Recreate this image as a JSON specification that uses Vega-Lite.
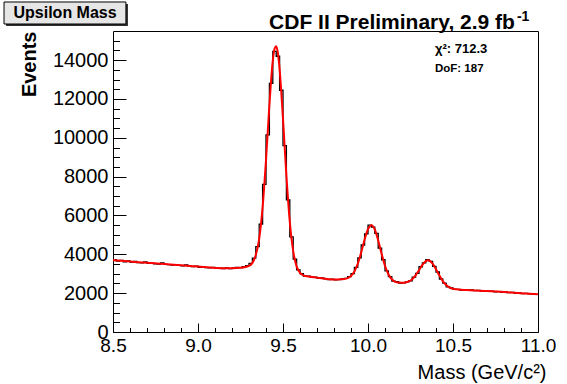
{
  "$schema": "https://vega.github.io/schema/vega-lite/v6.json",
  "width": 425,
  "height": 301,
  "autosize": {"type": "none"},
  "padding": {"left": 113, "top": 31, "right": 29, "bottom": 52},
  "background": "white",
  "config": {
    "view": {"stroke": "black", "strokeWidth": 1},
    "font": "Liberation Sans",
    "axis": {"grid": false, "domain": false}
  },
  "datasets": {
    "hist": [
      {"mass": 8.51, "events": 3720}, {"mass": 8.53, "events": 3650}, {"mass": 8.55, "events": 3690}, {"mass": 8.57, "events": 3610}, {"mass": 8.59, "events": 3660},
      {"mass": 8.61, "events": 3600}, {"mass": 8.63, "events": 3640}, {"mass": 8.65, "events": 3570}, {"mass": 8.67, "events": 3560}, {"mass": 8.69, "events": 3610},
      {"mass": 8.71, "events": 3530}, {"mass": 8.73, "events": 3550}, {"mass": 8.75, "events": 3510}, {"mass": 8.77, "events": 3500}, {"mass": 8.79, "events": 3560},
      {"mass": 8.81, "events": 3480}, {"mass": 8.83, "events": 3470}, {"mass": 8.85, "events": 3450}, {"mass": 8.87, "events": 3470}, {"mass": 8.89, "events": 3430},
      {"mass": 8.91, "events": 3410}, {"mass": 8.93, "events": 3450}, {"mass": 8.95, "events": 3390}, {"mass": 8.97, "events": 3370}, {"mass": 8.99, "events": 3390},
      {"mass": 9.01, "events": 3330}, {"mass": 9.03, "events": 3370}, {"mass": 9.05, "events": 3320}, {"mass": 9.07, "events": 3300}, {"mass": 9.09, "events": 3330},
      {"mass": 9.11, "events": 3280}, {"mass": 9.13, "events": 3290}, {"mass": 9.15, "events": 3270}, {"mass": 9.17, "events": 3300}, {"mass": 9.19, "events": 3260},
      {"mass": 9.21, "events": 3300}, {"mass": 9.23, "events": 3330}, {"mass": 9.25, "events": 3320}, {"mass": 9.27, "events": 3370}, {"mass": 9.29, "events": 3420},
      {"mass": 9.31, "events": 3530}, {"mass": 9.33, "events": 3800}, {"mass": 9.35, "events": 4400}, {"mass": 9.37, "events": 5550}, {"mass": 9.39, "events": 7600},
      {"mass": 9.41, "events": 10150}, {"mass": 9.43, "events": 12800}, {"mass": 9.45, "events": 14450}, {"mass": 9.47, "events": 14200}, {"mass": 9.49, "events": 12450},
      {"mass": 9.51, "events": 9600}, {"mass": 9.53, "events": 6800}, {"mass": 9.55, "events": 4900}, {"mass": 9.57, "events": 3750}, {"mass": 9.59, "events": 3200},
      {"mass": 9.61, "events": 3010}, {"mass": 9.63, "events": 2880}, {"mass": 9.65, "events": 2870}, {"mass": 9.67, "events": 2810}, {"mass": 9.69, "events": 2830},
      {"mass": 9.71, "events": 2770}, {"mass": 9.73, "events": 2780}, {"mass": 9.75, "events": 2740}, {"mass": 9.77, "events": 2700}, {"mass": 9.79, "events": 2720},
      {"mass": 9.81, "events": 2690}, {"mass": 9.83, "events": 2700}, {"mass": 9.85, "events": 2740}, {"mass": 9.87, "events": 2760}, {"mass": 9.89, "events": 2850},
      {"mass": 9.91, "events": 3010}, {"mass": 9.93, "events": 3330}, {"mass": 9.95, "events": 3820}, {"mass": 9.97, "events": 4480}, {"mass": 9.99, "events": 5050},
      {"mass": 10.01, "events": 5500}, {"mass": 10.03, "events": 5400}, {"mass": 10.05, "events": 5080}, {"mass": 10.07, "events": 4320}, {"mass": 10.09, "events": 3720},
      {"mass": 10.11, "events": 3150}, {"mass": 10.13, "events": 2850}, {"mass": 10.15, "events": 2620}, {"mass": 10.17, "events": 2590}, {"mass": 10.19, "events": 2520},
      {"mass": 10.21, "events": 2530}, {"mass": 10.23, "events": 2580}, {"mass": 10.25, "events": 2640}, {"mass": 10.27, "events": 2830}, {"mass": 10.29, "events": 3020},
      {"mass": 10.31, "events": 3360}, {"mass": 10.33, "events": 3560}, {"mass": 10.35, "events": 3720}, {"mass": 10.37, "events": 3640}, {"mass": 10.39, "events": 3380},
      {"mass": 10.41, "events": 3090}, {"mass": 10.43, "events": 2730}, {"mass": 10.45, "events": 2520}, {"mass": 10.47, "events": 2330}, {"mass": 10.49, "events": 2270},
      {"mass": 10.51, "events": 2190}, {"mass": 10.53, "events": 2200}, {"mass": 10.55, "events": 2160}, {"mass": 10.57, "events": 2180}, {"mass": 10.59, "events": 2150},
      {"mass": 10.61, "events": 2170}, {"mass": 10.63, "events": 2130}, {"mass": 10.65, "events": 2140}, {"mass": 10.67, "events": 2110}, {"mass": 10.69, "events": 2130},
      {"mass": 10.71, "events": 2100}, {"mass": 10.73, "events": 2110}, {"mass": 10.75, "events": 2070}, {"mass": 10.77, "events": 2080}, {"mass": 10.79, "events": 2040},
      {"mass": 10.81, "events": 2060}, {"mass": 10.83, "events": 2030}, {"mass": 10.85, "events": 2040}, {"mass": 10.87, "events": 1990}, {"mass": 10.89, "events": 2010},
      {"mass": 10.91, "events": 1980}, {"mass": 10.93, "events": 1990}, {"mass": 10.95, "events": 1960}, {"mass": 10.97, "events": 1970}, {"mass": 10.99, "events": 1940}
    ],
    "fit": [
      {"mass": 8.5, "events": 3700}, {"mass": 8.6, "events": 3630}, {"mass": 8.7, "events": 3560}, {"mass": 8.8, "events": 3500}, {"mass": 8.9, "events": 3440},
      {"mass": 9.0, "events": 3370}, {"mass": 9.1, "events": 3300}, {"mass": 9.15, "events": 3280}, {"mass": 9.2, "events": 3285}, {"mass": 9.25, "events": 3310},
      {"mass": 9.28, "events": 3350}, {"mass": 9.3, "events": 3400}, {"mass": 9.32, "events": 3560}, {"mass": 9.34, "events": 3960}, {"mass": 9.36, "events": 4800},
      {"mass": 9.38, "events": 6420}, {"mass": 9.4, "events": 8850}, {"mass": 9.42, "events": 11680}, {"mass": 9.44, "events": 13970}, {"mass": 9.45, "events": 14570},
      {"mass": 9.46, "events": 14715}, {"mass": 9.47, "events": 14355}, {"mass": 9.48, "events": 13540}, {"mass": 9.5, "events": 10970}, {"mass": 9.52, "events": 8055},
      {"mass": 9.54, "events": 5670}, {"mass": 9.56, "events": 4160}, {"mass": 9.58, "events": 3380}, {"mass": 9.6, "events": 3050}, {"mass": 9.62, "events": 2920},
      {"mass": 9.65, "events": 2855}, {"mass": 9.7, "events": 2800}, {"mass": 9.75, "events": 2745}, {"mass": 9.8, "events": 2705}, {"mass": 9.82, "events": 2705},
      {"mass": 9.84, "events": 2713}, {"mass": 9.86, "events": 2726}, {"mass": 9.88, "events": 2771}, {"mass": 9.9, "events": 2883}, {"mass": 9.92, "events": 3112},
      {"mass": 9.94, "events": 3518}, {"mass": 9.96, "events": 4101}, {"mass": 9.98, "events": 4759}, {"mass": 10.0, "events": 5295}, {"mass": 10.02, "events": 5502},
      {"mass": 10.04, "events": 5279}, {"mass": 10.06, "events": 4716}, {"mass": 10.08, "events": 4026}, {"mass": 10.1, "events": 3411}, {"mass": 10.12, "events": 2972},
      {"mass": 10.14, "events": 2715}, {"mass": 10.16, "events": 2585}, {"mass": 10.18, "events": 2545}, {"mass": 10.2, "events": 2538}, {"mass": 10.22, "events": 2550},
      {"mass": 10.24, "events": 2603}, {"mass": 10.26, "events": 2719}, {"mass": 10.28, "events": 2916}, {"mass": 10.3, "events": 3184}, {"mass": 10.32, "events": 3459},
      {"mass": 10.34, "events": 3652}, {"mass": 10.355, "events": 3695}, {"mass": 10.36, "events": 3683}, {"mass": 10.38, "events": 3526}, {"mass": 10.4, "events": 3235},
      {"mass": 10.42, "events": 2906}, {"mass": 10.44, "events": 2624}, {"mass": 10.46, "events": 2418}, {"mass": 10.48, "events": 2290}, {"mass": 10.5, "events": 2228},
      {"mass": 10.52, "events": 2199}, {"mass": 10.55, "events": 2175}, {"mass": 10.6, "events": 2155}, {"mass": 10.7, "events": 2115}, {"mass": 10.8, "events": 2055},
      {"mass": 10.9, "events": 2000}, {"mass": 11.0, "events": 1945}
    ]
  },
  "layer": [
    {
      "data": {"name": "hist"},
      "mark": {"type": "line", "interpolate": "step", "color": "black", "strokeWidth": 1.3},
      "encoding": {
        "x": {
          "field": "mass", "type": "quantitative",
          "scale": {"domain": [8.5, 11], "nice": false, "zero": false},
          "axis": {
            "orient": "bottom", "values": [8.5, 9, 9.5, 10, 10.5, 11], "format": ".1f",
            "tickSize": -9, "tickColor": "black", "tickWidth": 1,
            "labelFontSize": 19, "labelColor": "black", "labelPadding": 13, "labelFlush": false, "labelOverlap": false,
            "title": "Mass (GeV/c²)", "titleAnchor": "end", "titleAlign": "right", "titleX": 433, "titleFontSize": 20, "titleFontWeight": "normal", "titleColor": "black", "titlePadding": 7
          }
        },
        "y": {
          "field": "events", "type": "quantitative",
          "scale": {"domain": [0, 15500], "nice": false, "zero": true},
          "axis": {
            "orient": "left", "values": [0, 2000, 4000, 6000, 8000, 10000, 12000, 14000], "format": "d",
            "tickSize": -13, "tickColor": "black", "tickWidth": 1,
            "labelFontSize": 20, "labelColor": "black", "labelPadding": 18, "labelFlush": false, "labelOverlap": false,
            "title": "Events", "titleAnchor": "end", "titleFontSize": 20, "titleFontWeight": "bold", "titleColor": "black", "titlePadding": 13
          }
        }
      }
    },
    {
      "data": {"name": "fit"},
      "mark": {"type": "line", "interpolate": "monotone", "color": "#ff0000", "strokeWidth": 2},
      "encoding": {
        "x": {
          "field": "mass", "type": "quantitative",
          "scale": {"domain": [8.5, 11], "nice": false, "zero": false},
          "axis": {
            "orient": "bottom", "values": [8.6, 8.7, 8.8, 8.9, 9.1, 9.2, 9.3, 9.4, 9.6, 9.7, 9.8, 9.9, 10.1, 10.2, 10.3, 10.4, 10.6, 10.7, 10.8, 10.9],
            "tickSize": -4.5, "tickColor": "black", "tickWidth": 1, "labels": false, "title": null
          }
        },
        "y": {
          "field": "events", "type": "quantitative",
          "scale": {"domain": [0, 15500], "nice": false, "zero": true},
          "axis": {
            "orient": "left", "values": [500, 1000, 1500, 2500, 3000, 3500, 4500, 5000, 5500, 6500, 7000, 7500, 8500, 9000, 9500, 10500, 11000, 11500, 12500, 13000, 13500, 14500, 15000],
            "tickSize": -6.5, "tickColor": "black", "tickWidth": 1, "labels": false, "title": null
          }
        }
      }
    },
    {
      "data": {"values": [{}]},
      "mark": {"type": "rect", "fill": "#303030", "stroke": null},
      "encoding": {
        "x": {"datum": 7.871, "type": "quantitative", "axis": null},
        "x2": {"datum": 8.588},
        "y": {"datum": 16890, "type": "quantitative", "axis": null},
        "y2": {"datum": 15757}
      }
    },
    {
      "data": {"values": [{}]},
      "mark": {"type": "rect", "fill": "#e6e6e6", "stroke": "black", "strokeWidth": 1},
      "encoding": {
        "x": {"datum": 7.859, "type": "quantitative", "axis": null},
        "x2": {"datum": 8.576},
        "y": {"datum": 16994, "type": "quantitative", "axis": null},
        "y2": {"datum": 15860}
      }
    },
    {
      "data": {"values": [{}]},
      "mark": {"type": "text", "text": "Upsilon Mass", "font": "Liberation Sans", "fontSize": 16, "fontWeight": "bold", "color": "black", "align": "center", "baseline": "middle"},
      "encoding": {
        "x": {"datum": 8.218, "type": "quantitative", "axis": null},
        "y": {"datum": 16427, "type": "quantitative", "axis": null}
      }
    },
    {
      "data": {"values": [{}]},
      "mark": {"type": "text", "text": "CDF II Preliminary, 2.9 fb", "font": "Liberation Sans", "fontSize": 21, "fontWeight": "bold", "color": "black", "align": "left", "baseline": "alphabetic"},
      "encoding": {
        "x": {"datum": 9.418, "type": "quantitative", "axis": null},
        "y": {"datum": 15603, "type": "quantitative", "axis": null}
      }
    },
    {
      "data": {"values": [{}]},
      "mark": {"type": "text", "text": "-1", "font": "Liberation Sans", "fontSize": 14, "fontWeight": "bold", "color": "black", "align": "left", "baseline": "alphabetic"},
      "encoding": {
        "x": {"datum": 10.876, "type": "quantitative", "axis": null},
        "y": {"datum": 16015, "type": "quantitative", "axis": null}
      }
    },
    {
      "data": {"values": [{}]},
      "mark": {"type": "text", "text": "χ²: 712.3", "font": "Liberation Sans", "fontSize": 13, "fontWeight": "bold", "color": "black", "align": "left", "baseline": "alphabetic"},
      "encoding": {
        "x": {"datum": 10.394, "type": "quantitative", "axis": null},
        "y": {"datum": 14369, "type": "quantitative", "axis": null}
      }
    },
    {
      "data": {"values": [{}]},
      "mark": {"type": "text", "text": "DoF: 187", "font": "Liberation Sans", "fontSize": 11.5, "fontWeight": "bold", "color": "black", "align": "left", "baseline": "alphabetic"},
      "encoding": {
        "x": {"datum": 10.394, "type": "quantitative", "axis": null},
        "y": {"datum": 13389, "type": "quantitative", "axis": null}
      }
    }
  ],
  "resolve": {"axis": {"x": "independent", "y": "independent"}}
}
